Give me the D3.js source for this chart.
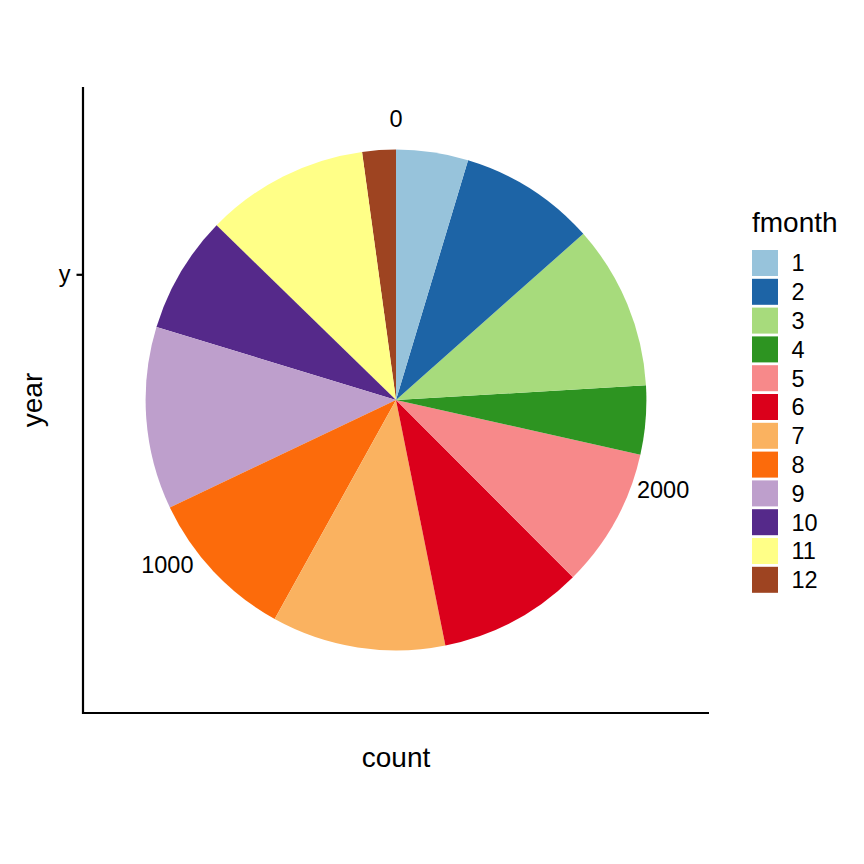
<!DOCTYPE html>
<html>
<head>
<meta charset="utf-8">
<script src="https://cdn.jsdelivr.net/npm/d3@7"></script>
<style>
  body { margin: 0; background: #ffffff; }
  text { font-family: "Liberation Sans", Arial, Helvetica, sans-serif; fill: #000; }
</style>
</head>
<body>
<script>
// Data: number of rows per month (fmonth 1 -> 12)
var months = ["1", "2", "3", "4", "5", "6", "7", "8", "9", "10", "11", "12"];
var counts = [133, 252, 304, 127, 258, 267, 321, 283, 337, 217, 302, 62];
// Brewer "Paired" as it shows up in the picture
var monthColors = ["#97c3db", "#1d64a6", "#a7db7c", "#2d9421", "#f7898a", "#db001b",
                   "#fab260", "#fc6b0b", "#be9fcc", "#55298a", "#ffff87", "#9e4421"];
var rLevels = ["y"];

(function(){

    var width = 864,
        height = 864;

    // Square panel, same as ggplot's coord_polar panel
    var panel = { left: 83, top: 87, size: 626 };
    var cx = panel.left + panel.size / 2,
        cy = panel.top + panel.size / 2;
    var outerR = 0.4 * panel.size,   // pie radius
        labelR = 0.45 * panel.size;  // theta labels ring
    var smallFont = '23.5px';

    var svg = d3.select('body')
        .append('svg')
        .attr('width', width)
        .attr('height', height);

    var total = d3.sum(counts);

    // Theta runs counter-clockwise from 12 o'clock, stacking starts with month 12
    var theta = d3.scaleLinear().domain([0, total]).range([0, -2 * Math.PI]);
    var r = d3.scaleBand().domain(rLevels).range([0, outerR]);
    var color = d3.scaleOrdinal().domain(months).range(monthColors);

    var row = {};
    months.forEach(function(m, i) { row[m] = counts[i]; });
    var series = d3.stack().keys(months.slice().reverse())([row]);

    var arc = d3.arc()
        .innerRadius(function() { return r('y'); })
        .outerRadius(function() { return r('y') + r.bandwidth(); })
        .startAngle(function(d) { return theta(d[0]); })
        .endAngle(function(d) { return theta(d[1]); });

    // Slices
    svg.append('g')
        .attr('transform', 'translate(' + cx + ',' + cy + ')')
        .selectAll('path')
        .data(series)
        .enter()
        .append('path')
        .attr('d', function(s) { return arc(s[0]); })
        .attr('fill', function(s) { return color(s.key); });

    // Theta tick labels (0, 1000, 2000)
    svg.append('g')
        .selectAll('text')
        .data(theta.ticks(3))
        .enter()
        .append('text')
        .attr('x', function(v) { return cx + labelR * Math.sin(theta(v)); })
        .attr('y', function(v) { return cy - labelR * Math.cos(theta(v)); })
        .attr('dy', '0.36em')
        .attr('text-anchor', 'middle')
        .style('font-size', smallFont)
        .text(function(v) { return v; });

    // Axis lines (left and bottom)
    svg.append('line')
        .attr('x1', panel.left).attr('x2', panel.left)
        .attr('y1', panel.top).attr('y2', panel.top + panel.size + 1)
        .attr('stroke', '#000').attr('stroke-width', 2.2);
    svg.append('line')
        .attr('x1', panel.left - 1).attr('x2', panel.left + panel.size)
        .attr('y1', panel.top + panel.size).attr('y2', panel.top + panel.size)
        .attr('stroke', '#000').attr('stroke-width', 2.2);

    // Radius axis: one discrete tick "y" halfway up the pie radius
    var yScale = d3.scaleBand().domain(rLevels).range([cy, cy - outerR]);
    var yAxis = svg.append('g')
        .attr('transform', 'translate(' + panel.left + ',0)')
        .call(d3.axisLeft(yScale).tickSize(6.5).tickPadding(6));
    yAxis.select('.domain').remove();
    yAxis.selectAll('line').attr('stroke', '#000').attr('stroke-width', 2.2);
    yAxis.selectAll('text')
        .style('font-size', smallFont)
        .style('font-family', '"Liberation Sans", Arial, sans-serif');

    // Axis titles
    svg.append('text')
        .attr('x', cx)
        .attr('y', 766.5)
        .attr('text-anchor', 'middle')
        .style('font-size', '28px')
        .text('count');
    svg.append('text')
        .attr('transform', 'translate(41.5,' + cy + ') rotate(-90)')
        .attr('text-anchor', 'middle')
        .style('font-size', '28px')
        .text('year');

    // Legend
    var legend = svg.append('g').attr('transform', 'translate(752,0)');
    legend.append('text')
        .attr('x', 0)
        .attr('y', 231.5)
        .style('font-size', '28px')
        .text('fmonth');

    var keys = legend.selectAll('.key')
        .data(months)
        .enter()
        .append('g')
        .attr('class', 'key')
        .attr('transform', function(d, i) { return 'translate(0,' + (250 + i * 28.8) + ')'; });
    keys.append('rect')
        .attr('width', 26)
        .attr('height', 26)
        .attr('fill', function(d) { return color(d); });
    keys.append('text')
        .attr('x', 39.5)
        .attr('y', 13)
        .attr('dy', '0.36em')
        .style('font-size', smallFont)
        .text(function(d) { return d; });

})();
</script>
</body>
</html>
